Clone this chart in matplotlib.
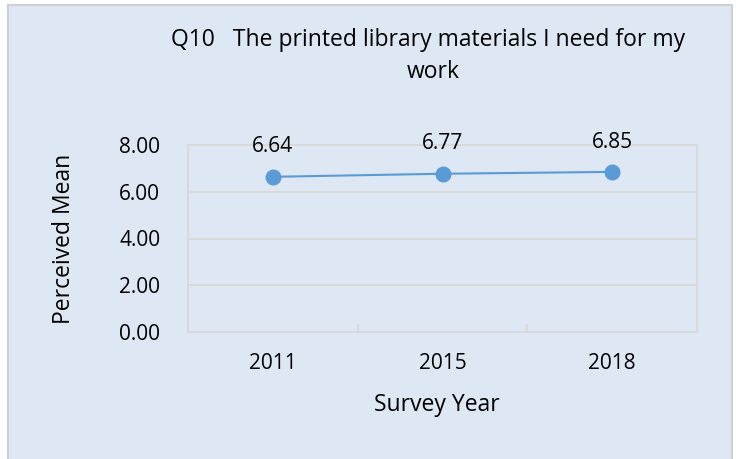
import matplotlib.pyplot as plt
from matplotlib.patches import Rectangle

years = ['2011', '2015', '2018']
means = [6.64, 6.77, 6.85]
y_ticks = [0, 2, 4, 6, 8]

bg = '#DEE8F4'
line_col = '#5B9BD5'
grid_col = '#D9D9D9'

plt.rcParams['font.family'] = ['Open Sans', 'DejaVu Sans']

fig = plt.figure(figsize=(7.37, 4.59), dpi=100)
fig.patch.set_facecolor('white')

# chart area background with border
fig.patches.append(Rectangle((8 / 737, -0.01), 724 / 737, 1 - 5 / 459 + 0.01,
                             transform=fig.transFigure, facecolor=bg,
                             edgecolor='#D0D0D0', linewidth=1.5, zorder=-5))

ax = fig.add_axes([188 / 737, 127 / 459, 509 / 737, 187 / 459])
ax.set_zorder(2)
ax.set_facecolor(bg)

x = range(len(years))
ax.plot(x, means, color=line_col, linewidth=1.5, marker='o', markersize=10.5,
        zorder=3, clip_on=False)
for xi, v in zip(x, means):
    ax.annotate(f'{v:.2f}', (xi, v), textcoords='offset points', xytext=(0, 17.5),
                ha='center', va='baseline', fontsize=15, color='#000000')

ax.set_xlim(-0.5, 2.5)
ax.set_ylim(0, 8)
ax.set_yticks(y_ticks)
ax.set_yticklabels([f'{t:.2f}' for t in y_ticks], fontsize=15)
ax.set_xticks(list(x))
ax.set_xticklabels(years, fontsize=15)
ax.set_xticks([0.5, 1.5], minor=True)
ax.tick_params(axis='x', which='major', length=0, pad=15)
ax.tick_params(axis='x', which='minor', length=6, direction='in', color=grid_col, width=1.5)
ax.tick_params(axis='y', length=0, pad=20)
ax.grid(axis='y', color=grid_col, linewidth=1.4)
ax.set_axisbelow(True)
for s in ax.spines.values():
    s.set_color(grid_col)
    s.set_linewidth(1.4)

ax.set_ylabel('Perceived Mean', fontsize=16.5, va='center')
ax.yaxis.set_label_coords((64 - 188) / 509, 0.5)
ax.set_xlabel('Survey Year', fontsize=16.5, va='center')
ax.xaxis.set_label_coords((437 - 188) / 509, -(405 - 332) / 187)

fig.text(428 / 737, 1 - 40 / 459, 'Q10   The printed library materials I need for my',
         ha='center', va='center', fontsize=16.5)
fig.text(433 / 737, 1 - 72 / 459, 'work', ha='center', va='center', fontsize=16.5)

fig.savefig('out.png', dpi=100, facecolor=fig.get_facecolor())
